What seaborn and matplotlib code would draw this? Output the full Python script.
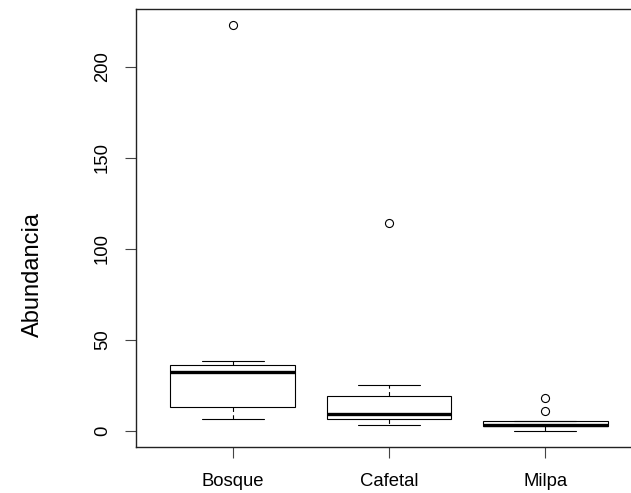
import numpy as np
import pandas as pd
import matplotlib
matplotlib.use("Agg")
import matplotlib.pyplot as plt
import seaborn as sns

# Data
sitios = ["Bosque", "Cafetal", "Milpa"]
bosque = [6.6, 10.0, 13.3, 25.0, 32.4, 34.0, 36.0, 38.6, 223.0]
cafetal = [3.3, 5.0, 6.4, 8.0, 9.2, 14.0, 19.2, 25.3, 114.0]
milpa = [0.2, 2.0, 2.7, 3.0, 3.5, 4.5, 5.3, 11.0, 18.0]
y_ticks = [0, 50, 100, 150, 200]

df = pd.DataFrame({
    "Sitio": [sitios[0]] * len(bosque) + [sitios[1]] * len(cafetal) + [sitios[2]] * len(milpa),
    "Abundancia": bosque + cafetal + milpa,
})

sns.set_style("white")
plt.rcParams["font.family"] = ["Liberation Sans", "DejaVu Sans"]

W, H = 631, 493
fig = plt.figure(figsize=(W / 100, H / 100), dpi=100)
left, right, top, bottom = 136, 642, 8.5, 447
ax = fig.add_axes([left / W, 1 - bottom / H, (right - left) / W, (bottom - top) / H])

sns.boxplot(
    data=df, x="Sitio", y="Abundancia", order=sitios, ax=ax,
    width=0.8, color="white", linecolor="black", linewidth=0.8,
    whis=1.5, saturation=1,
    medianprops=dict(color="black", linewidth=2.4, solid_capstyle="butt"),
    whiskerprops=dict(color="black", linewidth=0.8, linestyle=(0, (4, 3))),
    capprops=dict(color="black", linewidth=0.8),
    boxprops=dict(edgecolor="black", linewidth=0.8),
    flierprops=dict(marker="o", markerfacecolor="none", markeredgecolor="black",
                    markersize=5.8, markeredgewidth=0.8),
)

ax.set_xlim(-0.62, 2.62)
ax.set_ylim(-8.8, 232.1)
ax.set_yticks(y_ticks)
ax.set_yticklabels([str(v) for v in y_ticks], rotation=90, va="center")
ax.set_xlabel("")
ax.set_ylabel("")
ax.tick_params(axis="both", which="both", length=8, width=0.8, color="#444444",
               labelsize=13.3, labelcolor="black", left=True, bottom=True)
ax.tick_params(axis="y", pad=10)
ax.tick_params(axis="x", pad=10.5)
for s in ax.spines.values():
    s.set_visible(True)
    s.set_color("#222222")
    s.set_linewidth(1.0)
ax.grid(False)

fig.text(33 / W, 1 - 274.5 / H, "Abundancia", rotation=90, ha="center", va="center",
         fontsize=17, color="black")

fig.savefig("out.png", dpi=100, facecolor="white")
